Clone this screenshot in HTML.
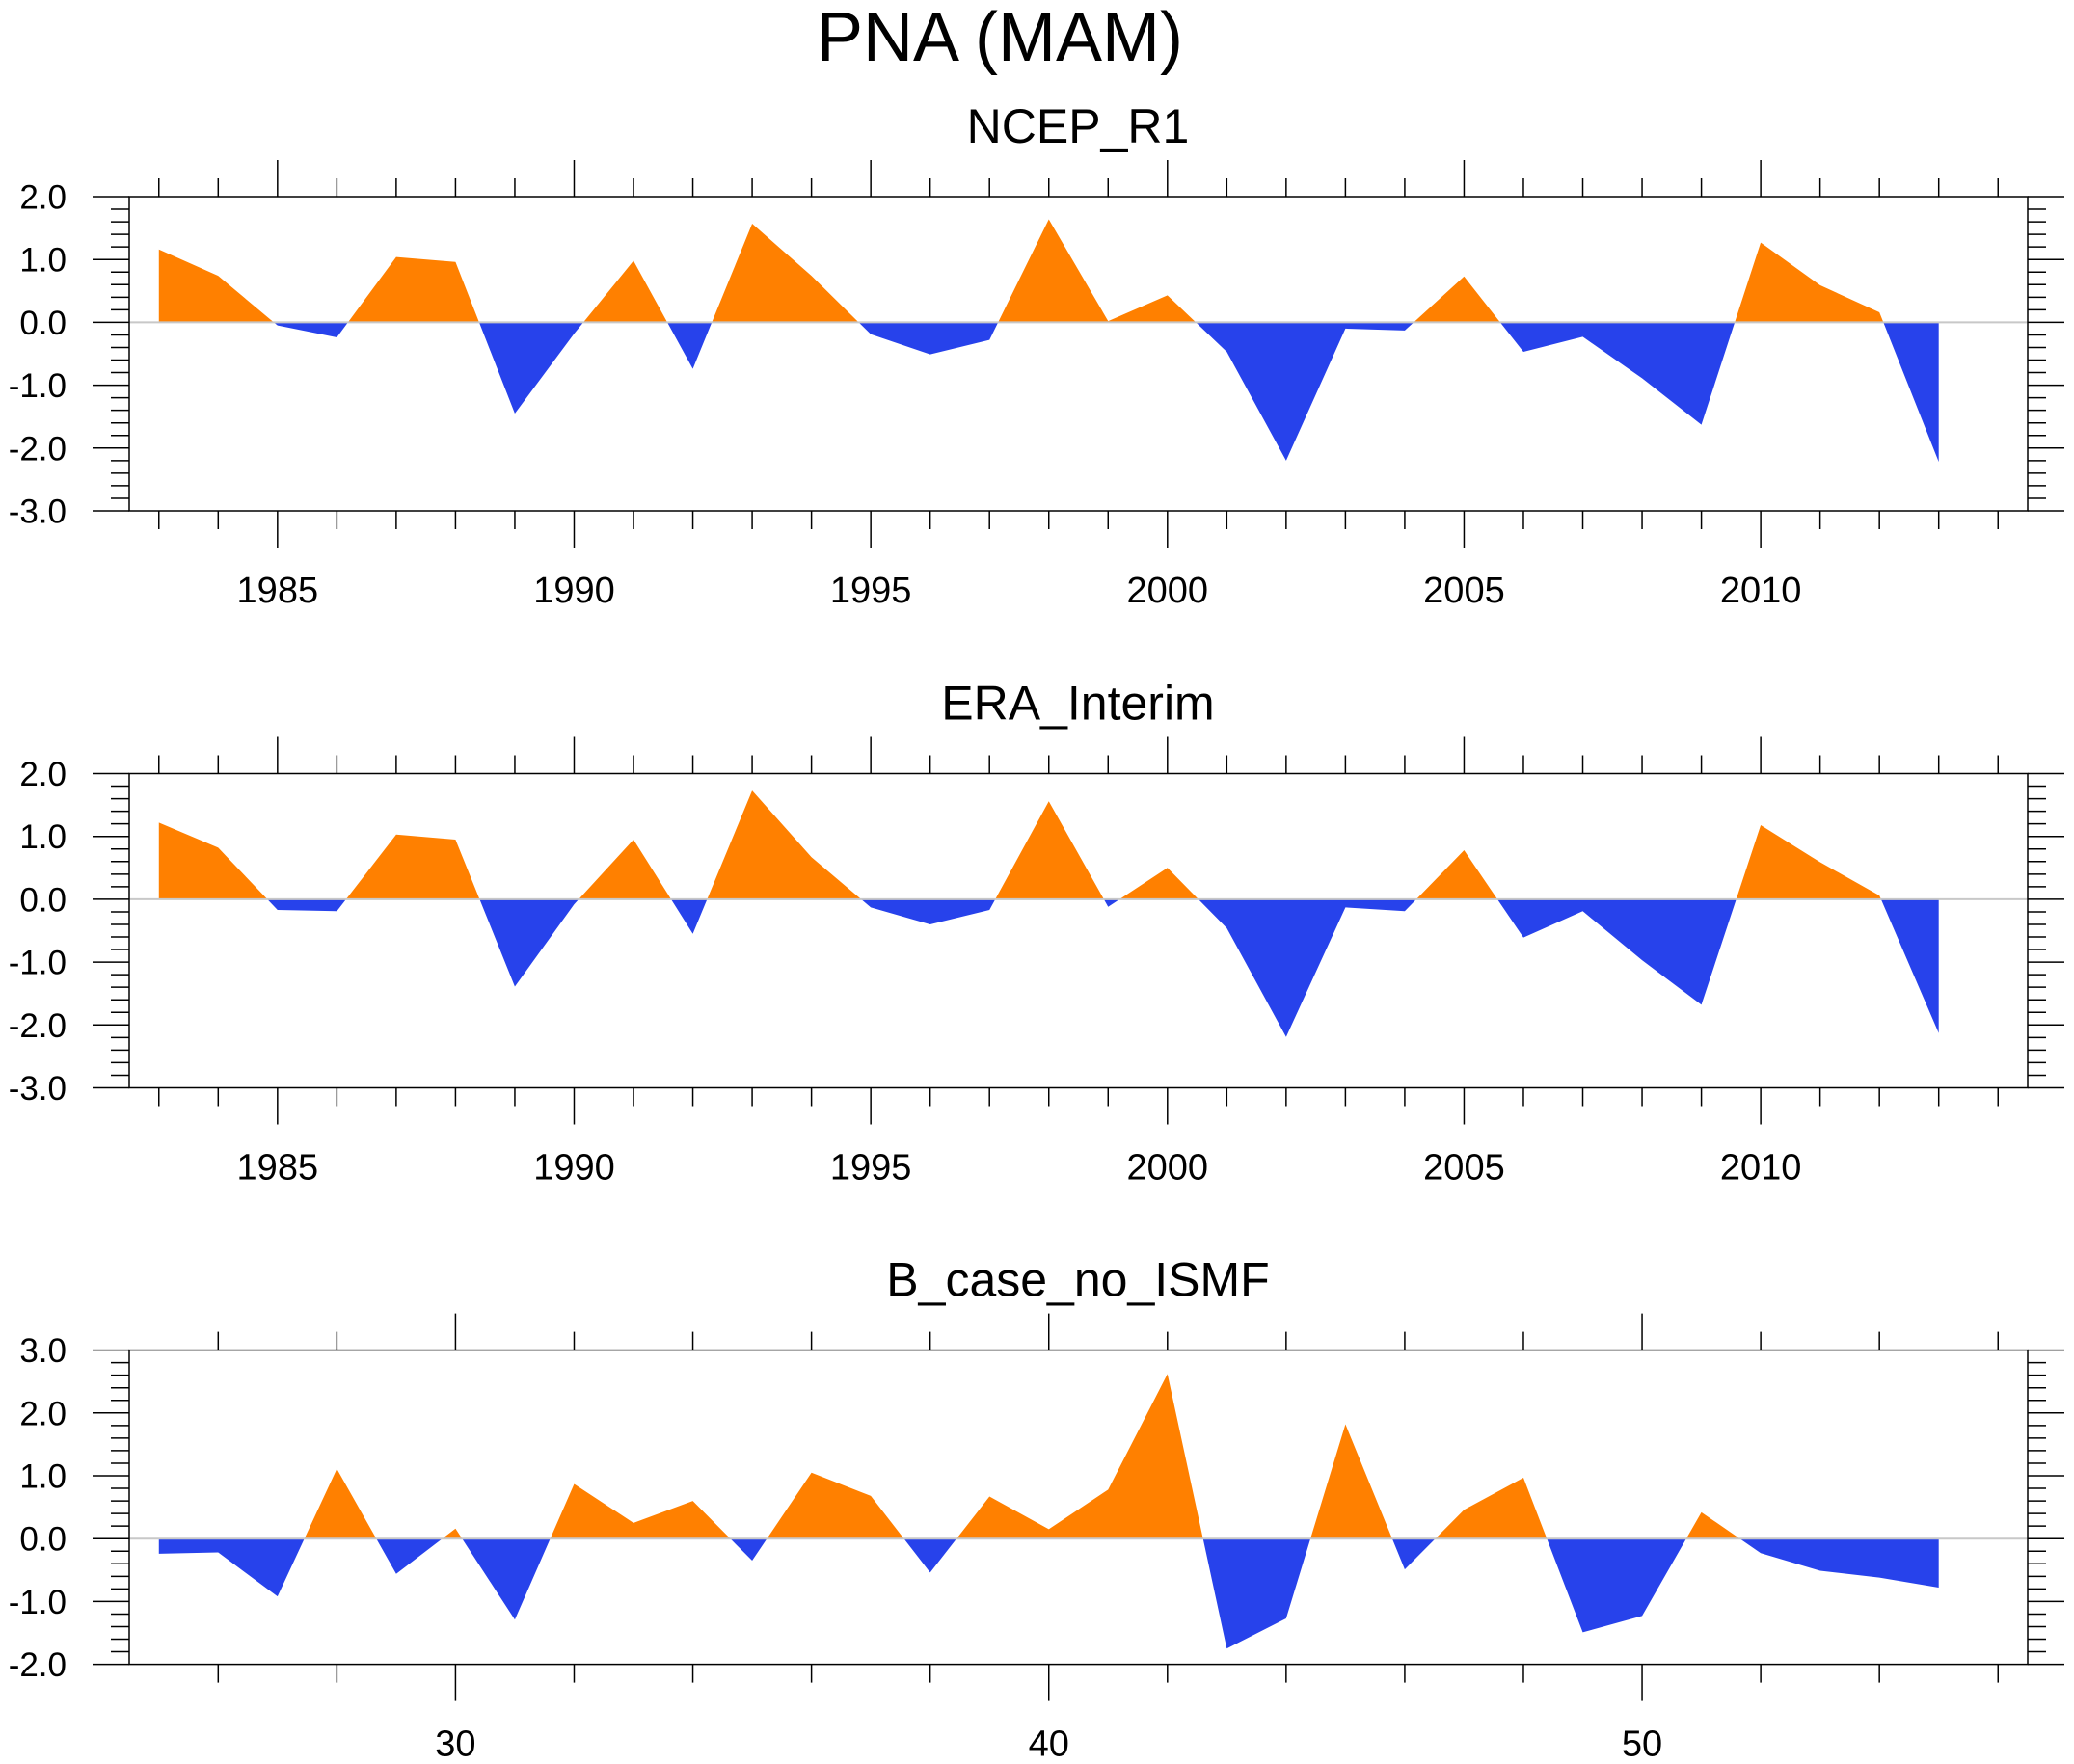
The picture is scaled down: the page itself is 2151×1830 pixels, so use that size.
<!DOCTYPE html>
<html><head><meta charset="utf-8"><style>
html,body{margin:0;padding:0;background:#fff;}
svg{display:block;font-family:"Liberation Sans",Arial,sans-serif;}
</style></head><body>
<svg id="chart" width="2151" height="1830" viewBox="0 0 2151 1830" xmlns="http://www.w3.org/2000/svg">
<text x="1037" y="63" font-size="72" text-anchor="middle">PNA (MAM)</text>
</svg>
<script>
const yearsObs = [1983,1984,1985,1986,1987,1988,1989,1990,1991,1992,1993,1994,1995,1996,1997,1998,1999,2000,2001,2002,2003,2004,2005,2006,2007,2008,2009,2010,2011,2012,2013];
const ncepValues = [1.16,0.74,-0.05,-0.24,1.04,0.96,-1.45,-0.18,0.98,-0.74,1.57,0.74,-0.19,-0.51,-0.28,1.64,0.02,0.43,-0.47,-2.2,-0.1,-0.13,0.73,-0.47,-0.23,-0.89,-1.63,1.27,0.59,0.16,-2.22];
const eraValues = [1.22,0.82,-0.17,-0.19,1.03,0.95,-1.39,-0.08,0.95,-0.55,1.73,0.67,-0.13,-0.4,-0.17,1.56,-0.12,0.5,-0.46,-2.19,-0.13,-0.19,0.78,-0.61,-0.19,-0.97,-1.68,1.18,0.59,0.06,-2.13];
const yearsModel = [25,26,27,28,29,30,31,32,33,34,35,36,37,38,39,40,41,42,43,44,45,46,47,48,49,50,51,52,53,54,55];
const modelValues = [-0.24,-0.22,-0.92,1.11,-0.56,0.16,-1.29,0.87,0.25,0.60,-0.35,1.05,0.68,-0.54,0.67,0.15,0.78,2.62,-1.75,-1.27,1.82,-0.49,0.46,0.97,-1.49,-1.23,0.42,-0.23,-0.51,-0.62,-0.78];
const obsXTickLabels = ["1985","1990","1995","2000","2005","2010"];
const modelXTickLabels = ["30","40","50"];
const yTickLabelsObs = ["2.0","1.0","0.0","-1.0","-2.0","-3.0"];
const yTickLabelsModel = ["3.0","2.0","1.0","0.0","-1.0","-2.0"];

const NS = "http://www.w3.org/2000/svg";
const svg = document.getElementById('chart');
function mk(tag, attrs, parent){
  const e = document.createElementNS(NS, tag);
  for (const k in attrs) e.setAttribute(k, attrs[k]);
  (parent||svg).appendChild(e); return e;
}
const L = 134, R = 2103;
function panel(idx, name, title, top, xs, vals, xmin, xmax, ymin, ymax, minorStep, majorVals, xLabels, yLabels){
  const bottom = top + 326;
  const g = mk('g', {});
  
  
  const X = v => L + (v - xmin) / (xmax - xmin) * (R - L);
  const Y = v => top + (ymax - v) / (ymax - ymin) * (bottom - top);
  const t = mk('text', {x:1118, y: top - 56, 'font-size':50, 'text-anchor':'middle'}, g);
  t.textContent = title;
  
  
  const y0 = Y(0);
  let d = 'M' + X(xs[0]) + ',' + y0;
  xs.forEach((x,i)=>{ d += ' L' + X(x) + ',' + Y(vals[i]); });
  d += ' L' + X(xs[xs.length-1]) + ',' + y0 + ' Z';
  const cid = 'c' + idx;
  const defs = mk('defs', {}, g);
  const cp1 = mk('clipPath', {id: cid + 'a'}, defs);
  mk('rect', {x:L, y:top, width:R-L, height:y0-top}, cp1);
  const cp2 = mk('clipPath', {id: cid + 'b'}, defs);
  mk('rect', {x:L, y:y0, width:R-L, height:bottom-y0}, cp2);
  const pos = mk('path', {d:d, fill:'#ff8000', 'clip-path':'url(#'+cid+'a)'}, g);
  
  
  const neg = mk('path', {d:d, fill:'#2742eb', 'clip-path':'url(#'+cid+'b)'}, g);
  
  
  const zl = mk('line', {x1:L, x2:R, y1:y0, y2:y0, stroke:'#c8c8c8', 'stroke-width':2}, g);
  
  
  const fr = mk('rect', {x:L, y:top, width:R-L, height:bottom-top, fill:'none', stroke:'#000', 'stroke-width':1.5}, g);
  
  
  const start = Math.ceil(xmin / minorStep) * minorStep;
  for (let v = start; v <= xmax + 1e-9; v += minorStep){
    const isMajor = majorVals.indexOf(Math.round(v)) >= 0;
    const len = isMajor ? 38 : 19;
    const x = X(v);
    mk('line', {x1:x, x2:x, y1:top, y2:top-len, stroke:'#000', 'stroke-width':1.5}, g);
    mk('line', {x1:x, x2:x, y1:bottom, y2:bottom+len, stroke:'#000', 'stroke-width':1.5}, g);
  }
  majorVals.forEach((v,i)=>{
    const tl = mk('text', {x:X(v), y:bottom+95, 'font-size':38, 'text-anchor':'middle'}, g);
    tl.textContent = xLabels[i];
    
    
  });
  for (let k = 0; k <= Math.round((ymax-ymin)/0.2); k++){
    const v = ymin + k*0.2;
    const isMajor = k % 5 === 0;
    const len = isMajor ? 38 : 19;
    const y = Y(v);
    mk('line', {x1:L, x2:L-len, y1:y, y2:y, stroke:'#000', 'stroke-width':1.5}, g);
    mk('line', {x1:R, x2:R+len, y1:y, y2:y, stroke:'#000', 'stroke-width':1.5}, g);
  }
  yLabels.forEach((lab,i)=>{
    const tl = mk('text', {x:69, y:Y(ymax - i) + 12.5, 'font-size':35, 'text-anchor':'end'}, g);
    tl.textContent = lab;
    
    
  });
}
panel(1, 'ncep-r1', 'NCEP_R1', 204, yearsObs, ncepValues, 1982.5, 2014.5, -3, 2, 1, [1985,1990,1995,2000,2005,2010], obsXTickLabels, yTickLabelsObs);
panel(2, 'era-interim', 'ERA_Interim', 802.5, yearsObs, eraValues, 1982.5, 2014.5, -3, 2, 1, [1985,1990,1995,2000,2005,2010], obsXTickLabels, yTickLabelsObs);
panel(3, 'b-case-no-ismf', 'B_case_no_ISMF', 1400.6, yearsModel, modelValues, 24.5, 56.5, -2, 3, 2, [30,40,50], modelXTickLabels, yTickLabelsModel);
</script>
</body></html>
